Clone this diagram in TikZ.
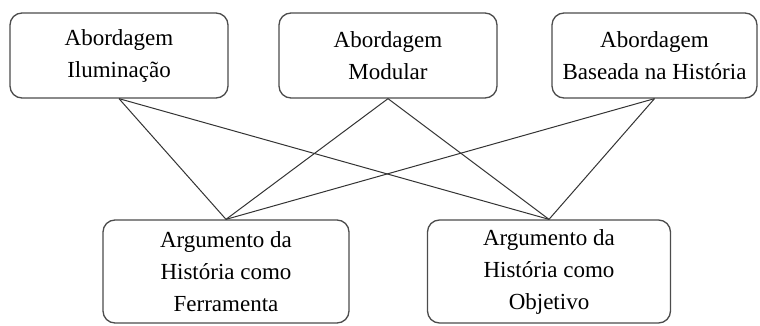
\documentclass[tikz,border=0pt]{standalone}
\usepackage{fontspec}
\setmainfont{Liberation Serif}
\usetikzlibrary{positioning}

\begin{document}
\begin{tikzpicture}[x=1pt,y=-1pt,
    box/.style={rectangle,draw=black!70,line width=1.3pt,rounded corners=12pt,align=center,
        minimum height=85pt,font=\fontsize{23}{32}\selectfont},
    link/.style={draw=black!80,line width=1pt}]
    \useasboundingbox (0,0) rectangle (760,326);
    \node[box,minimum width=218pt] (a1) at (119,55.5)   {Abordagem\\Iluminação};
    \node[box,minimum width=218pt] (a2) at (388,55.5)   {Abordagem\\Modular};
    \node[box,minimum width=205pt] (a3) at (654.5,55.5) {Abordagem\\Baseada na História};
    \node[box,minimum width=246pt,minimum height=103pt] (g1) at (226,271.5) {Argumento da\\História como\\Ferramenta};
    \node[box,minimum width=243pt,minimum height=103pt] (g2) at (549,271.5) {Argumento da\\História como\\Objetivo};
    \draw[link] (a1.south)--(g1.north);
    \draw[link] (a1.south)--(g2.north);
    \draw[link] (a2.south)--(g1.north);
    \draw[link] (a2.south)--(g2.north);
    \draw[link] (a3.south)--(g1.north);
    \draw[link] (a3.south)--(g2.north);
\end{tikzpicture}
\end{document}
